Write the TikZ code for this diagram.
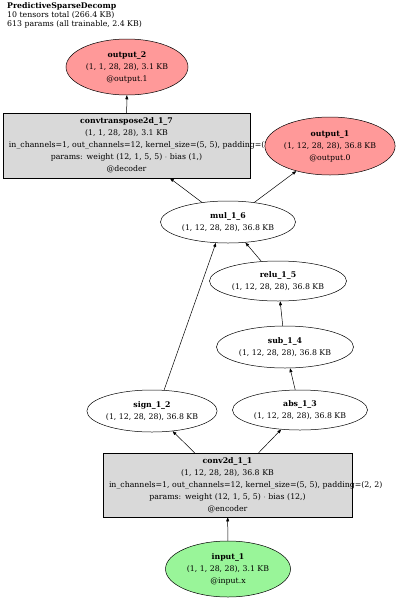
\documentclass[tikz,border=0pt]{standalone}
\usepackage{fontspec}
\setmainfont{DejaVu Serif}
\usepackage{xcolor}
\usetikzlibrary{arrows.meta, positioning, calc, shapes.geometric}
\definecolor{outred}{HTML}{FF9999}
\definecolor{ingreen}{HTML}{99F599}
\definecolor{layergray}{HTML}{D9D9D9}

\begin{document}
\begin{tikzpicture}[x=1pt, y=-1pt,
    every node/.style={font=\fontsize{7.8}{12}\selectfont, align=center, inner sep=0pt},
    tensor/.style={ellipse, draw, fill=white, line width=0.5pt},
    outtensor/.style={tensor, fill=outred},
    intensor/.style={tensor, fill=ingreen},
    layer/.style={rectangle, draw, fill=layergray, line width=0.5pt, inner xsep=6pt},
    flow/.style={-{Triangle[length=4pt, width=3pt]}, line width=0.5pt}]
    \useasboundingbox (0,0) rectangle (400,600);
    \node[anchor=north west, align=left, font=\fontsize{7.8}{9}\selectfont] (title) at (7,2)
        {\textbf{PredictiveSparseDecomp}\\10 tensors total (266.4 KB)\\613 params (all trainable, 2.4 KB)};
    \node[outtensor, minimum width=122pt, minimum height=56pt] (out2) at (127,67)
        {\textbf{output\_2}\\(1, 1, 28, 28), 3.1 KB\\@output.1};
    \node[layer, minimum width=247pt, minimum height=65pt, text width=235pt] (convt) at (126.5,145.5)
        {\textbf{convtranspose2d\_1\_7}\\(1, 1, 28, 28), 3.1 KB\\
        \makebox[\linewidth][l]{in\_channels=1, out\_channels=12, kernel\_size=(5, 5), padding=(2, 2)}\\
        params: weight (12, 1, 5, 5) $\cdot$ bias (1,)\\@decoder};
    \node[outtensor, minimum width=130pt, minimum height=58pt] (out1) at (330,146)
        {\textbf{output\_1}\\(1, 12, 28, 28), 36.8 KB\\@output.0};
    \node[tensor, minimum width=135pt, minimum height=42pt] (mul) at (228,222)
        {\textbf{mul\_1\_6}\\(1, 12, 28, 28), 36.8 KB};
    \node[tensor, minimum width=137pt, minimum height=40pt] (relu) at (278,281)
        {\textbf{relu\_1\_5}\\(1, 12, 28, 28), 36.8 KB};
    \node[tensor, minimum width=137pt, minimum height=42pt] (sub) at (285,347)
        {\textbf{sub\_1\_4}\\(1, 12, 28, 28), 36.8 KB};
    \node[tensor, minimum width=135pt, minimum height=40pt] (abs) at (300,410)
        {\textbf{abs\_1\_3}\\(1, 12, 28, 28), 36.8 KB};
    \node[tensor, minimum width=130pt, minimum height=42pt] (sign) at (152,411)
        {\textbf{sign\_1\_2}\\(1, 12, 28, 28), 36.8 KB};
    \node[layer, minimum width=249pt, minimum height=64pt, text width=237pt] (conv) at (227.5,485)
        {\textbf{conv2d\_1\_1}\\(1, 12, 28, 28), 36.8 KB\\
        \makebox[\linewidth][l]{in\_channels=1, out\_channels=12, kernel\_size=(5, 5), padding=(2, 2)}\\
        params: weight (12, 1, 5, 5) $\cdot$ bias (12,)\\@encoder};
    \node[intensor, minimum width=125pt, minimum height=56pt] (in1) at (228,569)
        {\textbf{input\_1}\\(1, 1, 28, 28), 3.1 KB\\@input.x};

    \draw[flow] (in1) -- (conv);
    \draw[flow] (conv) -- (sign);
    \draw[flow] (conv) -- (abs);
    \draw[flow] (abs) -- (sub);
    \draw[flow] (sub) -- (relu);
    \draw[flow] (relu) -- (mul);
    \draw[flow] (sign.60) -- (mul.240);
    \draw[flow] (mul) -- (convt);
    \draw[flow] (mul) -- (out1);
    \draw[flow] (convt) -- (out2);
\end{tikzpicture}
\end{document}
